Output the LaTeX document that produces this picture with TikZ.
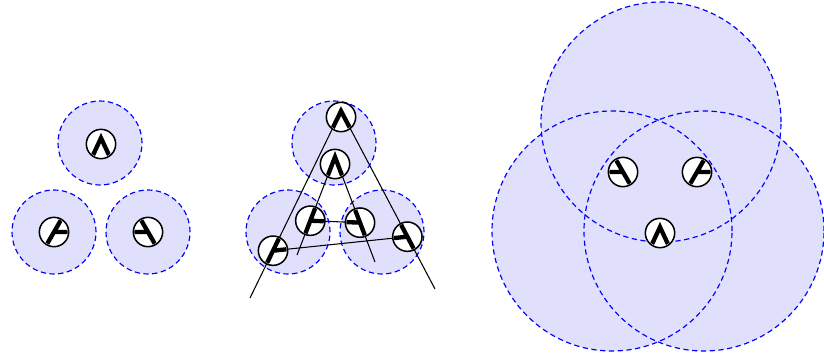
\documentclass[tikz,border=0pt]{standalone}
\usetikzlibrary{calc}
\definecolor{FieldBlue}{HTML}{E0E0FC}

% junction marks, clipped to the inside of a unit
\newcommand{\apexunit}[1]{%
  \begin{scope}
    \clip (#1.center) circle[radius=13.6];
    \draw[bar] ($(#1)+(0,6)+(245:30)$) -- ($(#1)+(0,6)$) -- ($(#1)+(0,6)+(295:30)$);
  \end{scope}}
\newcommand{\leftunit}[1]{%
  \begin{scope}
    \clip (#1.center) circle[radius=13.6];
    \draw[bar] ($(#1)+(240:20)$) -- ($(#1)+(60:20)$) (#1.center) -- ++(20,0);
  \end{scope}}
\newcommand{\rightunit}[1]{%
  \begin{scope}
    \clip (#1.center) circle[radius=13.6];
    \draw[bar] ($(#1)+(120:20)$) -- ($(#1)+(300:20)$) (#1.center) -- ++(-20,0);
  \end{scope}}

\begin{document}
\begin{tikzpicture}[
  x=0.03cm, y=0.03cm,
  field/.style = {fill=FieldBlue},
  rim/.style   = {draw=blue, dash pattern=on 4.5pt off 3pt, line width=1pt},
  unit/.style  = {circle, draw, fill=white, line width=1.3pt,
                  minimum size=0.88cm, inner sep=0pt},
  edge/.style  = {line width=0.9pt},
  bar/.style   = {line width=3.7pt, miter limit=20}
]
  \useasboundingbox (0,0) rectangle (824,-353);

  % receptive fields
  \foreach \x/\y/\r in {100/143/42, 54/232/42, 148/232/42,
                        334/143/42, 288/232/42, 382/232/42,
                        661/122/120, 612/231/120, 704/231/120}
    \fill[field] (\x,-\y) circle[radius=\r];
  \foreach \x/\y/\r in {100/143/42, 54/232/42, 148/232/42,
                        334/143/42, 288/232/42, 382/232/42,
                        661/122/120, 612/231/120, 704/231/120}
    \draw[rim] (\x,-\y) circle[radius=\r];

  % small fields
  \node[unit] (fa) at (101,-144) {};
  \node[unit] (fl) at (54,-232) {};
  \node[unit] (fr) at (148,-232) {};
  \apexunit{fa}
  \leftunit{fl}
  \rightunit{fr}

  % two letters
  \coordinate (oTop) at (341,-111);
  \coordinate (oL) at (250,-298);
  \coordinate (oR) at (435,-289);
  \coordinate (iTop) at (335,-157);
  \coordinate (iL) at (297,-255);
  \coordinate (iR) at (375,-262);
  \coordinate (oBarL) at ($(oTop)!0.747!(oL)$);
  \coordinate (oBarR) at ($(oTop)!0.706!(oR)$);
  \coordinate (iBarL) at ($(iTop)!0.65!(iL)$);
  \coordinate (iBarR) at ($(iTop)!0.625!(iR)$);

  \draw[edge] (oL) -- (oTop) -- (oR) (oBarL) -- (oBarR)
              (iL) -- (iTop) -- (iR) (iBarL) -- (iBarR);

  \node[unit] (ma) at ($(oTop)+(0,-6)$) {};
  \node[unit] (mb) at ($(iTop)+(0,-7)$) {};
  \node[unit] (ml) at (oBarL) {};
  \node[unit] (mr) at (oBarR) {};
  \node[unit] (nl) at (iBarL) {};
  \node[unit] (nr) at (iBarR) {};
  \begin{scope}
    \clip (ma.center) circle[radius=13.6] (mb.center) circle[radius=13.6]
          (ml.center) circle[radius=13.6] (mr.center) circle[radius=13.6]
          (nl.center) circle[radius=13.6] (nr.center) circle[radius=13.6];
    \draw[bar] (oL) -- (oTop) -- (oR) (oBarL) -- (oBarR)
               (iL) -- (iTop) -- (iR) (iBarL) -- (iBarR);
  \end{scope}

  % large fields
  \node[unit] (gl) at (623,-172) {};
  \node[unit] (gr) at (697,-172) {};
  \node[unit] (ga) at (660,-233) {};
  \rightunit{gl}
  \leftunit{gr}
  \apexunit{ga}
\end{tikzpicture}
\end{document}
